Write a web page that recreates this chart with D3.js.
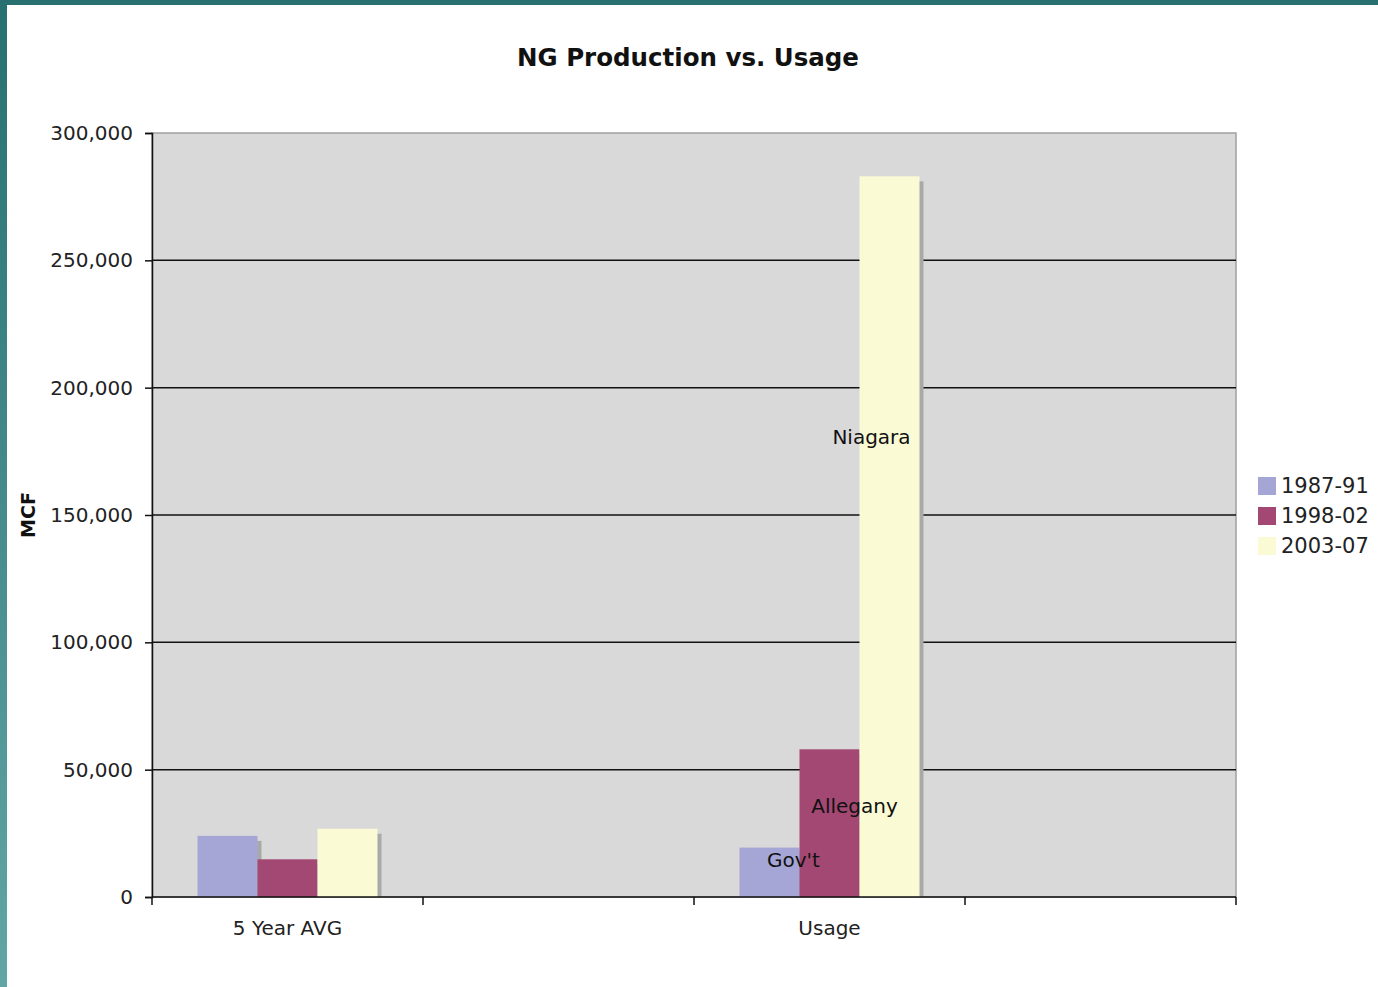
<!DOCTYPE html>
<html>
<head>
<meta charset="utf-8">
<script src="https://cdnjs.cloudflare.com/ajax/libs/d3/7.8.5/d3.min.js"></script>
<style>
  body { margin: 0; background: #fff; }
  svg { display: block; font-family: "DejaVu Sans", Verdana, sans-serif; }
</style>
</head>
<body>
<div id="canvas"></div>
<script>
const categories = ["5 Year AVG", "", "Usage", ""];
const seriesNames = ["1987-91", "1998-02", "2003-07"];
const seriesColors = ["#a6a6d6", "#a34872", "#fafad5"];
// values per category, one per series (null = no bar)
const values = [
  [24000, 14800, 26800],
  [null, null, null],
  [19400, 58000, 283000],
  [null, null, null]
];
const usageLabels = ["Gov't", "Allegany", "Niagara"];
const yTicks = [0, 50000, 100000, 150000, 200000, 250000, 300000];

const w = 1378, h = 987;
const margin = { top: 133, bottom: 90, left: 152, right: 142 };

const svg = d3.select("#canvas").append("svg")
  .attr("width", w).attr("height", h);

// teal frame
const defs = svg.append("defs");
const grad = defs.append("linearGradient").attr("id", "frame")
  .attr("x1", 0).attr("y1", 0).attr("x2", 0).attr("y2", 1);
grad.append("stop").attr("offset", "0%").attr("stop-color", "#287070");
grad.append("stop").attr("offset", "100%").attr("stop-color", "#62a5a5");
svg.append("rect").attr("x", 0).attr("y", 0).attr("width", w).attr("height", 5).attr("fill", "#287070");
svg.append("rect").attr("x", 0).attr("y", 0).attr("width", 7).attr("height", h).attr("fill", "url(#frame)");

const width = w - margin.left - margin.right;
const height = h - margin.top - margin.bottom;

const x = d3.scaleBand().domain(d3.range(categories.length)).range([0, width]);
const y = d3.scaleLinear().domain([0, 300000]).range([height, 0]);
const barW = 60;
const xs = d3.scaleBand().domain(d3.range(seriesNames.length))
  .range([(x.bandwidth() - barW * 3) / 2, (x.bandwidth() + barW * 3) / 2]);

const g = svg.append("g").attr("transform", `translate(${margin.left},${margin.top})`);

g.append("rect").attr("width", width).attr("height", height)
  .attr("fill", "#d9d9d9").attr("stroke", "#a0a0a0").attr("stroke-width", 1.5);

// gridlines
g.selectAll(".grid").data(yTicks.slice(1, -1)).enter().append("line")
  .attr("x1", 0).attr("x2", width)
  .attr("y1", d => y(d)).attr("y2", d => y(d))
  .attr("stroke", "#111").attr("stroke-width", 1.5);

// bars
const bars = [];
values.forEach((row, ci) => row.forEach((v, si) => {
  if (v != null) bars.push({ ci, si, v });
}));

g.append("clipPath").attr("id", "plotclip").append("rect")
  .attr("width", width).attr("height", height);

g.append("g").attr("clip-path", "url(#plotclip)")
  .selectAll(".shadow").data(bars).enter().append("rect")
  .attr("x", d => x(d.ci) + xs(d.si) + 4)
  .attr("y", d => y(d.v) + 5)
  .attr("width", xs.bandwidth())
  .attr("height", d => height - y(d.v))
  .attr("fill", "#a9a9a9");

g.selectAll(".bar").data(bars).enter().append("rect")
  .attr("x", d => x(d.ci) + xs(d.si))
  .attr("y", d => y(d.v))
  .attr("width", xs.bandwidth())
  .attr("height", d => height - y(d.v))
  .attr("fill", d => seriesColors[d.si]);

// data labels for usage
const labelPos = [
  { dx: 24, v: 14000 },
  { dx: 25, v: 35000 },
  { dx: -18, v: 180000 }
];
g.selectAll(".dlabel").data(usageLabels).enter().append("text")
  .attr("x", (d, i) => x(2) + xs(i) + xs.bandwidth() / 2 + labelPos[i].dx)
  .attr("y", (d, i) => y(labelPos[i].v))
  .attr("text-anchor", "middle")
  .attr("dominant-baseline", "middle")
  .attr("font-size", 20)
  .attr("fill", "#111")
  .text(d => d);

// axes
const yAxis = d3.axisLeft(y).tickValues(yTicks).tickSize(7).tickPadding(12)
  .tickFormat(d3.format(","));
const ya = g.append("g").call(yAxis);
ya.select(".domain").attr("stroke", "#111").attr("stroke-width", 1.5);
ya.selectAll(".tick line").attr("stroke", "#111").attr("stroke-width", 1.5);
ya.selectAll("text").attr("font-size", 20).attr("fill", "#222")
  .attr("font-family", "DejaVu Sans, Verdana, sans-serif");

const xTickScale = d3.scaleLinear().domain([0, categories.length]).range([0, width]);
const xa = g.append("g").attr("transform", `translate(0,${height})`);
xa.append("line").attr("x1", 0).attr("x2", width)
  .attr("stroke", "#111").attr("stroke-width", 1.5);
xa.selectAll(".xt").data(d3.range(categories.length + 1)).enter().append("line")
  .attr("x1", d => xTickScale(d)).attr("x2", d => xTickScale(d))
  .attr("y1", 0).attr("y2", 8)
  .attr("stroke", "#111").attr("stroke-width", 1.5);
xa.selectAll(".xl").data(categories).enter().append("text")
  .attr("x", (d, i) => x(i) + x.bandwidth() / 2)
  .attr("y", 38)
  .attr("text-anchor", "middle")
  .attr("font-size", 20).attr("fill", "#222")
  .text(d => d);

// title
svg.append("text").attr("x", 688).attr("y", 66)
  .attr("text-anchor", "middle").attr("font-weight", "bold")
  .attr("font-size", 24.5).attr("fill", "#111")
  .text("NG Production vs. Usage");

// y axis title
svg.append("text")
  .attr("transform", "translate(35,515) rotate(-90)")
  .attr("text-anchor", "middle").attr("font-weight", "bold")
  .attr("font-size", 19).attr("fill", "#111")
  .text("MCF");

// legend
const lg = svg.append("g").attr("transform", "translate(1258,477)");
const li = lg.selectAll(".li").data(seriesNames).enter().append("g")
  .attr("transform", (d, i) => `translate(0,${i * 30})`);
li.append("rect").attr("width", 18).attr("height", 18)
  .attr("fill", (d, i) => seriesColors[i]);
li.append("text").attr("x", 23).attr("y", 10)
  .attr("dominant-baseline", "middle")
  .attr("font-size", 21).attr("fill", "#222")
  .text(d => d);
</script>
</body>
</html>
